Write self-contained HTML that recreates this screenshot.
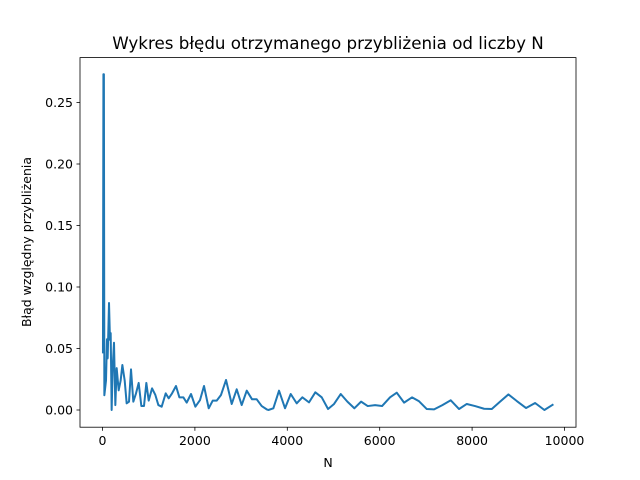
<!DOCTYPE html>
<html><head><meta charset="utf-8"><style>
body{margin:0;background:#fff;}
svg{display:block;font-family:"DejaVu Sans","Liberation Sans",sans-serif;}
</style></head><body>
<svg id="chart" width="640" height="480">
<rect width="640" height="480" fill="#fff"/>
<text x="328" y="49" font-size="16.7" text-anchor="middle">Wykres błędu otrzymanego przybliżenia od liczby N</text>
<g id="axes"></g>
<rect x="80" y="57.6" width="496" height="369.6" fill="none" stroke="#000" stroke-width="0.8"/>
<text x="328" y="467" font-size="12.5" text-anchor="middle">N</text>
<text transform="translate(31,242) rotate(-90)" font-size="12.5" text-anchor="middle">Błąd względny przybliżenia</text>
</svg>
<script>
const nValues=[10,20,30,40,76,97,112,141,162,177,198,220,249,278,307,350,393,430,480,523,574,617,667,725,783,841,898,949,1000,1072,1144,1209,1281,1368,1433,1505,1591,1664,1750,1822,1916,2010,2111,2197,2299,2385,2472,2565,2674,2797,2905,3013,3122,3237,3338,3446,3555,3590,3698,3821,3951,4074,4204,4326,4470,4607,4745,4882,5012,5156,5300,5451,5597,5741,5900,6051,6224,6369,6528,6701,6852,7019,7177,7357,7538,7718,7885,8064,8259,8426,8606,8786,8967,9169,9364,9565,9760];
const errValues=[0.046,0.273,0.273,0.012,0.024,0.0575,0.042,0.087,0.057,0.0625,0.0,0.034,0.0547,0.004,0.034,0.016,0.024,0.0366,0.024,0.0054,0.0068,0.033,0.0068,0.0135,0.022,0.0032,0.0032,0.022,0.0076,0.0176,0.0122,0.004,0.0027,0.0135,0.0095,0.0135,0.0195,0.0103,0.0103,0.006,0.013,0.0027,0.0081,0.0195,0.0014,0.0076,0.0076,0.0122,0.0244,0.0049,0.0168,0.004,0.0157,0.0087,0.0087,0.0032,0.0005,0.0,0.0014,0.0157,0.0014,0.013,0.0054,0.0103,0.0062,0.0144,0.0103,0.0008,0.0049,0.013,0.0068,0.0014,0.0068,0.0032,0.004,0.0032,0.0103,0.0141,0.006,0.0103,0.0071,0.0008,0.0005,0.004,0.0079,0.0008,0.0049,0.0032,0.001,0.0008,0.0068,0.0127,0.0073,0.0016,0.0057,0.0,0.0046];
const xTicks=[0,2000,4000,6000,8000,10000];
const yTicks=[0,0.05,0.10,0.15,0.20,0.25];
const yTickLabels=["0.00","0.05","0.10","0.15","0.20","0.25"];
const NS="http://www.w3.org/2000/svg";
function xs(v){return 102.5+v*0.0462;}
function ys(v){return 410-v*1230;}
const g=document.getElementById('axes');
function mk(t,a){const e=document.createElementNS(NS,t);for(const k in a)e.setAttribute(k,a[k]);return e;}
xTicks.forEach(t=>{
  const l=mk('line',{x1:xs(t),x2:xs(t),y1:427.2,y2:430.7,stroke:'#000','stroke-width':0.8});
  
  
  g.appendChild(l);
  const tx=mk('text',{x:xs(t),y:445,'font-size':12.5,'text-anchor':'middle'});
  tx.textContent=String(t);
  
  
  g.appendChild(tx);
});
yTicks.forEach((t,i)=>{
  const l=mk('line',{x1:76.5,x2:80,y1:ys(t),y2:ys(t),stroke:'#000','stroke-width':0.8});
  
  
  g.appendChild(l);
  const tx=mk('text',{x:73,y:ys(t)+4.5,'font-size':12.5,'text-anchor':'end'});
  tx.textContent=yTickLabels[i];
  
  
  g.appendChild(tx);
});
const pts=nValues.map((n,i)=>xs(n).toFixed(2)+','+ys(errValues[i]).toFixed(2)).join(' ');
const pl=mk('polyline',{points:pts,fill:'none',stroke:'#1f77b4','stroke-width':2,'stroke-linejoin':'round'});


g.appendChild(pl);
</script>
</body></html>
